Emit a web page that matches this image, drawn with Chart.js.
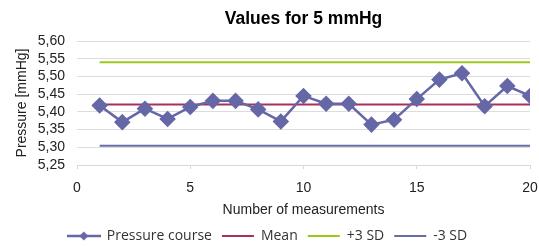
<!DOCTYPE html>
<html>
<head>
<meta charset="utf-8">
<script src="https://cdn.jsdelivr.net/npm/chart.js@4/dist/chart.umd.min.js"></script>
<style>
  html, body { margin: 0; padding: 0; background: #fff; }
  #wrap { width: 539px; height: 247px; }
</style>
</head>
<body>
<div id="wrap"><canvas id="grafico"></canvas></div>
<script>
// measurement numbers and readings
const measurements = [1, 2, 3, 4, 5, 6, 7, 8, 9, 10, 11, 12, 13, 14, 15, 16, 17, 18, 19, 20];
const pressure = [5.418, 5.371, 5.409, 5.380, 5.414, 5.431, 5.431, 5.407, 5.373, 5.445,
                  5.423, 5.423, 5.364, 5.378, 5.436, 5.491, 5.509, 5.416, 5.473, 5.445];
const mean = 5.421;
const plus3sd = 5.540;
const minus3sd = 5.304;
const yTicks = [5.25, 5.30, 5.35, 5.40, 5.45, 5.50, 5.55, 5.60];

const pts = (ys) => measurements.map((x, i) => ({ x: x, y: ys[i] }));
const flat = (v) => [{ x: measurements[0], y: v }, { x: measurements[measurements.length - 1], y: v }];

const purple = "#6567a6";

// legend marker: short line with a small diamond in the middle
function lineDiamond(color) {
  const c = document.createElement("canvas");
  c.width = 34; c.height = 12;
  const g = c.getContext("2d");
  g.strokeStyle = color; g.lineWidth = 2.5;
  g.beginPath(); g.moveTo(0, 6); g.lineTo(34, 6); g.stroke();
  g.fillStyle = color;
  g.beginPath(); g.moveTo(17, 1.5); g.lineTo(21.5, 6); g.lineTo(17, 10.5); g.lineTo(12.5, 6); g.closePath(); g.fill();
  return c;
}
const pcMarker = lineDiamond(purple);

Chart.defaults.font.family = "'Liberation Sans', Arial, sans-serif";
Chart.defaults.color = "#222";

const ctx = document.getElementById("grafico").getContext("2d");

new Chart(ctx, {
  type: "line",
  data: {
    datasets: [
      {
        label: "Pressure course",
        data: pts(pressure),
        borderColor: purple,
        backgroundColor: purple,
        borderWidth: 2.5,
        pointStyle: "rectRot",
        pointRadius: 6.5,
        tension: 0,
        order: 0
      },
      {
        label: "Mean",
        data: flat(mean),
        borderColor: "#a3325e",
        backgroundColor: "#a3325e",
        borderWidth: 2,
        pointRadius: 0,
        pointStyle: "line",
        order: 1
      },
      {
        label: "+3 SD",
        data: flat(plus3sd),
        borderColor: "#9cc81e",
        backgroundColor: "#9cc81e",
        borderWidth: 2,
        pointRadius: 0,
        pointStyle: "line",
        order: 2
      },
      {
        label: "-3 SD",
        data: flat(minus3sd),
        borderColor: "#6a6ca8",
        backgroundColor: "#6a6ca8",
        borderWidth: 2,
        pointRadius: 0,
        pointStyle: "line",
        order: 3
      }
    ]
  },
  options: {
    responsive: true,
    maintainAspectRatio: false,
    animation: false,
    layout: { padding: { left: 4, right: 8, top: 4, bottom: -6 } },
    plugins: {
      title: {
        display: true,
        fullSize: false,
        text: "Values for 5 mmHg",
        font: { size: 17.5, weight: "bold" },
        color: "#000",
        padding: { top: 5, bottom: 11 }
      },
      legend: {
        position: "bottom",
        labels: {
          usePointStyle: true,
          pointStyleWidth: 32,
          boxHeight: 12,
          font: { size: 14, family: "'Open Sans', sans-serif" },
          color: "#333",
          padding: 10,
          generateLabels: (chart) => {
            const items = Chart.defaults.plugins.legend.labels.generateLabels(chart);
            items[0].pointStyle = pcMarker;
            return items;
          }
        }
      },
      tooltip: { enabled: false }
    },
    scales: {
      x: {
        type: "linear",
        min: 0,
        max: 20,
        afterFit: (axis) => { axis.height = 54; axis.paddingLeft = 0; axis.paddingRight = 0; },
        ticks: { stepSize: 5, font: { size: 14 }, color: "#222", padding: 11 },
        grid: { display: true, drawOnChartArea: false, tickLength: 4, color: "#d8d8d8" },
        border: { color: "#d8d8d8" },
        title: {
          display: true,
          text: "Number of measurements",
          font: { size: 14 },
          color: "#222",
          padding: { top: 6, bottom: 0 }
        }
      },
      y: {
        min: 5.25,
        max: 5.60,
        afterBuildTicks: (axis) => { axis.ticks = yTicks.map(v => ({ value: v })); },
        afterFit: (axis) => { axis.width = 73; },
        ticks: {
          autoSkip: false,
          font: { size: 14 },
          color: "#222",
          padding: 12,
          callback: (v) => v.toFixed(2).replace(".", ",")
        },
        grid: { color: "#dcdcdc", drawTicks: false },
        border: { display: false },
        title: {
          display: true,
          text: "Pressure [mmHg]",
          font: { size: 14 },
          color: "#222",
          padding: { top: 10, bottom: 0 }
        }
      }
    }
  }
});
</script>
</body>
</html>
